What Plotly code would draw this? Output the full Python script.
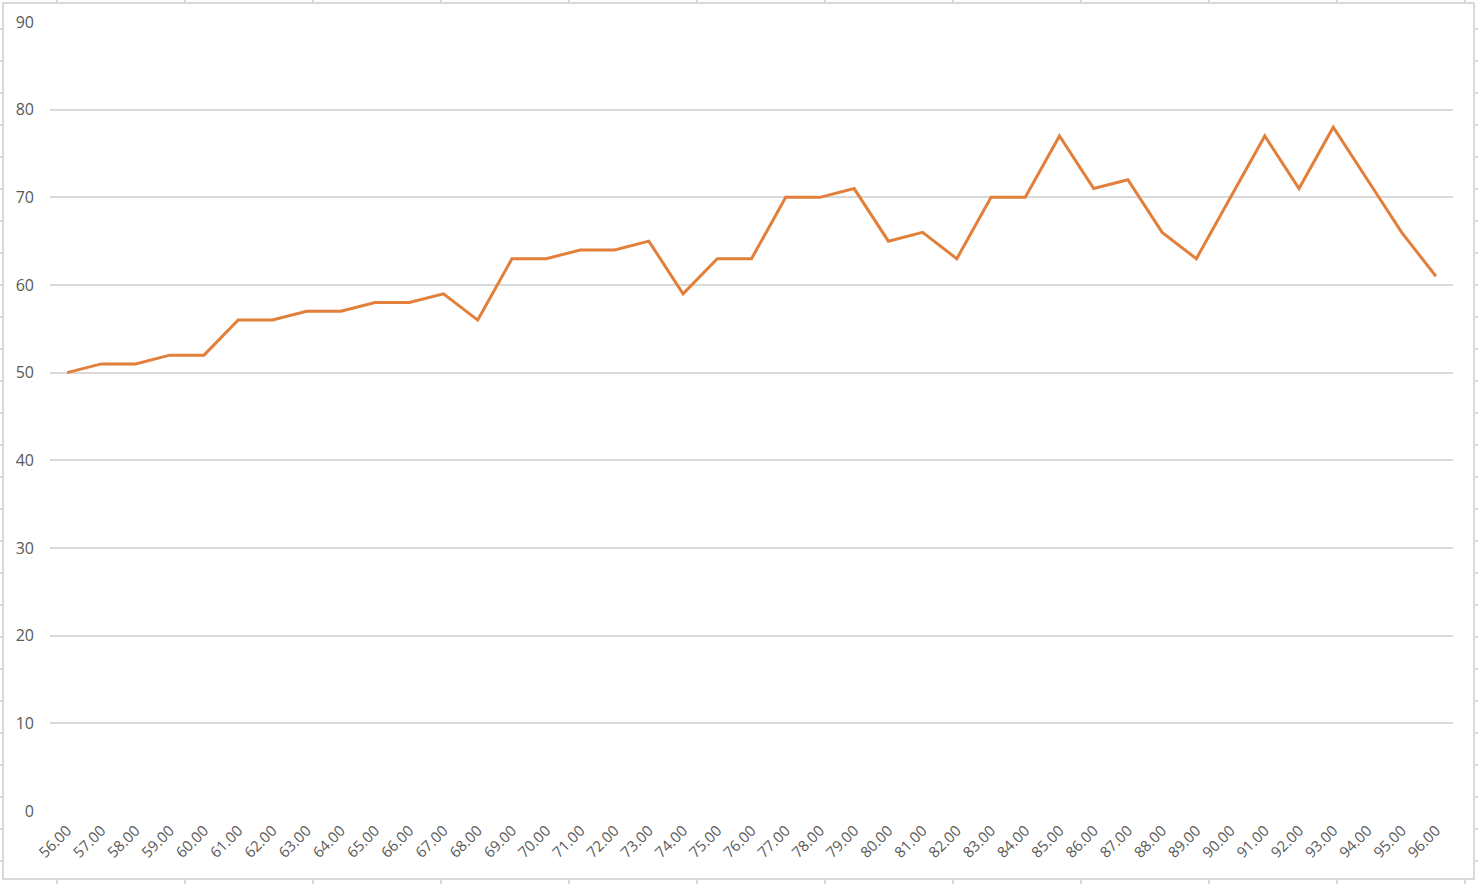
import plotly.graph_objects as go

categories = [f"{v:.2f}" for v in range(56, 97)]
values = [50, 51, 51, 52, 52, 56, 56, 57, 57, 58, 58, 59, 56, 63, 63, 64, 64, 65,
          59, 63, 63, 70, 70, 71, 65, 66, 63, 70, 70, 77, 71, 72, 66, 63, 70, 77,
          71, 78, 72, 66, 61]

fig = go.Figure()
fig.add_trace(go.Scatter(
    x=categories, y=values, mode="lines",
    line=dict(color="#E27F3A", width=3),
    hoverinfo="x+y", showlegend=False,
))

W, H = 1478, 884
L, R, T, B = 50, 25, 22, 73
pw, ph = W - L - R, H - T - B
def px_x(x):
    return (x - L) / pw
def px_y(y):
    return (H - B - y) / ph

shapes = [dict(type="rect", xref="paper", yref="paper",
               x0=px_x(3), x1=px_x(1474), y0=px_y(879), y1=px_y(3),
               line=dict(color="#D9D9D9", width=2), layer="below")]
for xx in range(57, 1478, 128):
    shapes.append(dict(type="line", xref="paper", yref="paper",
                       x0=px_x(xx), x1=px_x(xx), y0=px_y(3), y1=px_y(0),
                       line=dict(color="#D9D9D9", width=2)))
    shapes.append(dict(type="line", xref="paper", yref="paper",
                       x0=px_x(xx), x1=px_x(xx), y0=px_y(884), y1=px_y(879),
                       line=dict(color="#D9D9D9", width=2)))
for yy in range(29, 884, 32):
    shapes.append(dict(type="line", xref="paper", yref="paper",
                       x0=px_x(0), x1=px_x(3), y0=px_y(yy), y1=px_y(yy),
                       line=dict(color="#D9D9D9", width=2)))
    shapes.append(dict(type="line", xref="paper", yref="paper",
                       x0=px_x(1474), x1=px_x(1478), y0=px_y(yy), y1=px_y(yy),
                       line=dict(color="#D9D9D9", width=2)))

fig.update_layout(
    width=W, height=H,
    margin=dict(l=L, r=R, t=T, b=B, autoexpand=False),
    paper_bgcolor="white", plot_bgcolor="white",
    font=dict(family="Open Sans", size=15, color="#595959"),
    xaxis=dict(type="category", range=[-0.5, len(categories) - 0.5],
               showgrid=False, zeroline=False, showline=False,
               tickangle=-45, ticks="", ticklabelstandoff=7,
               tickfont=dict(size=15, color="#595959")),
    yaxis=dict(range=[0, 90], dtick=10, showgrid=True, gridcolor="#D9D9D9",
               gridwidth=1.5, zeroline=False, showline=False, ticks="",
               ticklabelstandoff=15, tickfont=dict(size=16, color="#595959")),
    shapes=shapes,
)

fig.write_html("out.html", config={"displayModeBar": False},
               post_script="document.body.style.margin='0px';document.body.style.overflow='hidden';")
